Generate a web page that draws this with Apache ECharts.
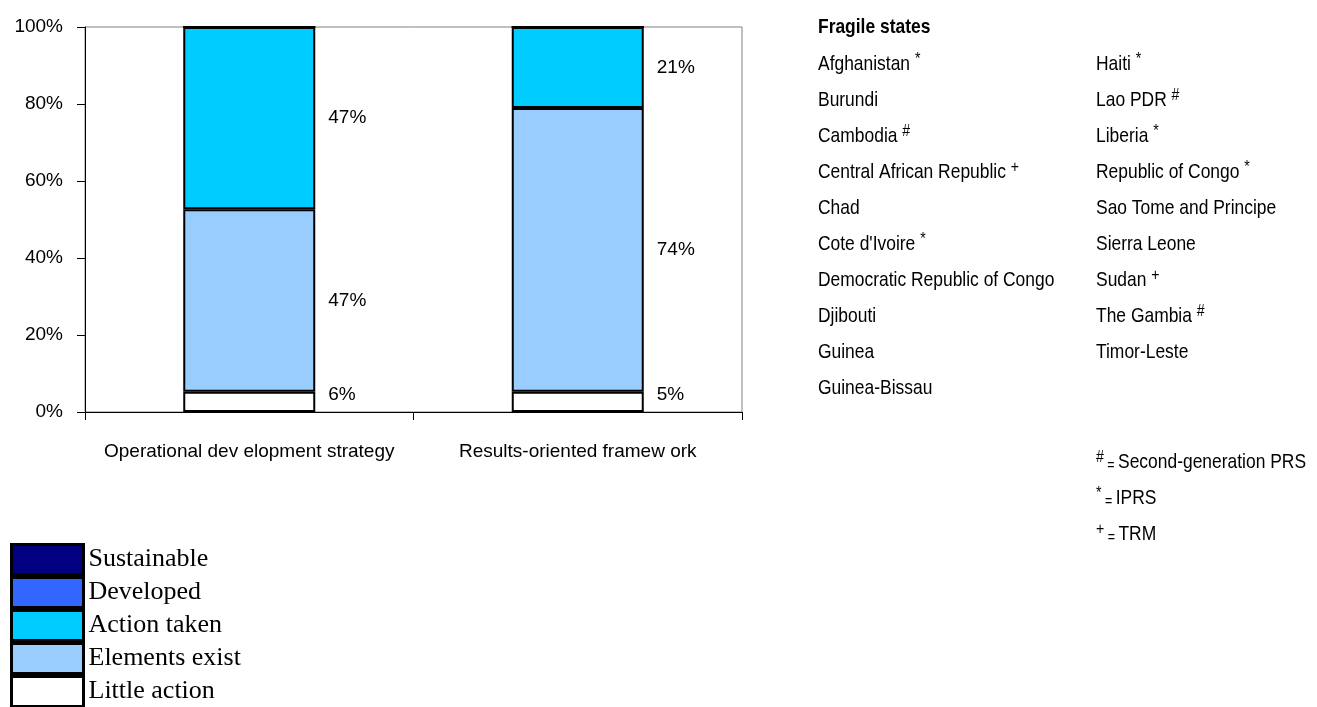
<!DOCTYPE html>
<html>
<head>
<meta charset="utf-8">
<script src="https://cdn.jsdelivr.net/npm/echarts@6/dist/echarts.min.js"></script>
<style>
html,body{margin:0;padding:0;background:#fff;}
#chart{width:1317px;height:707px;}
</style>
</head>
<body>
<div id="chart"></div>
<script>
// ---- data ----
const categories = ['Operational dev elopment strategy', 'Results-oriented framew ork'];
const yTicks = [0, 20, 40, 60, 80, 100];
const littleAction = [5.26, 5.26];
const elementsExist = [47.37, 73.68];
const actionTaken = [47.37, 21.05];
const developed = [0, 0];
const sustainable = [0, 0];
const littleLabels = ['6%', '5%'];
const elementsLabels = ['47%', '74%'];
const actionLabels = ['47%', '21%'];
const legendNames = ['Sustainable', 'Developed', 'Action taken', 'Elements exist', 'Little action'];
const seriesColors = {
  'Sustainable': '#000080',
  'Developed': '#3366FF',
  'Action taken': '#00CCFF',
  'Elements exist': '#99CCFF',
  'Little action': '#FFFFFF'
};
const fragileTitle = 'Fragile states';
const countriesCol1 = [
  ['Afghanistan', '*'], ['Burundi', ''], ['Cambodia', '#'], ['Central African Republic', '+'],
  ['Chad', ''], ["Cote d'Ivoire", '*'], ['Democratic Republic of Congo', ''], ['Djibouti', ''],
  ['Guinea', ''], ['Guinea-Bissau', '']
];
const countriesCol2 = [
  ['Haiti', '*'], ['Lao PDR', '#'], ['Liberia', '*'], ['Republic of Congo', '*'],
  ['Sao Tome and Principe', ''], ['Sierra Leone', ''], ['Sudan', '+'], ['The Gambia', '#'],
  ['Timor-Leste', '']
];
const footnotes = [['#', 'Second-generation PRS'], ['*', 'IPRS'], ['+', 'TRM']];

// ---- chart ----
const chart = echarts.init(document.getElementById('chart'), null, {renderer: 'canvas'});
const sansFont = "'Liberation Sans', Arial, sans-serif";
const narrow = 0.83;

function makeSeries(name, data, labels, labelOffset) {
  const s = {
    name: name,
    type: 'bar',
    stack: 'total',
    barWidth: 132,
    data: data,
    itemStyle: {color: seriesColors[name], borderColor: '#000', borderWidth: 2},
    emphasis: {disabled: true},
    label: {show: false}
  };
  if (labels) {
    s.label = {
      show: true,
      position: 'right',
      distance: 13,
      offset: labelOffset || [0, 0],
      color: '#000',
      fontFamily: sansFont,
      fontSize: 19,
      formatter: p => labels[p.dataIndex]
    };
  }
  return s;
}

const rich = {
  n: {fontFamily: sansFont, fontSize: 21, lineHeight: 24, color: '#000', verticalAlign: 'bottom'},
  s: {fontFamily: sansFont, fontSize: 17, color: '#000', verticalAlign: 'top'},
  e: {fontFamily: sansFont, fontSize: 15, color: '#000', verticalAlign: 'bottom'}
};
function countryText(c) {
  return c[1] ? '{n|' + c[0] + ' }{s|' + c[1] + '}' : '{n|' + c[0] + '}';
}
const graphics = [];
graphics.push({
  type: 'text', x: 818, y: 17, scaleX: narrow,
  style: {text: fragileTitle, font: "bold 21px " + sansFont, fill: '#000', verticalAlign: 'top'}
});
countriesCol1.forEach((c, i) => {
  graphics.push({type: 'text', x: 818, y: 51 + 36 * i, scaleX: narrow,
    style: {text: countryText(c), rich: rich, fill: '#000', verticalAlign: 'top'}});
});
countriesCol2.forEach((c, i) => {
  graphics.push({type: 'text', x: 1096, y: 51 + 36 * i, scaleX: narrow,
    style: {text: countryText(c), rich: rich, fill: '#000', verticalAlign: 'top'}});
});
footnotes.forEach((f, i) => {
  graphics.push({type: 'text', x: 1096, y: 449 + 36 * i, scaleX: narrow,
    style: {text: '{s|' + f[0] + '}{e| = }{n|' + f[1] + '}', rich: rich, fill: '#000', verticalAlign: 'top'}});
});

const option = {
  backgroundColor: '#fff',
  animation: false,
  grid: {left: 85, right: 575, top: 27, bottom: 295, show: true, borderColor: '#808080', borderWidth: 1, containLabel: false},
  legend: {
    data: legendNames,
    orient: 'vertical',
    left: 10,
    top: 543,
    height: 220,
    padding: 0,
    itemWidth: 72,
    itemHeight: 30,
    itemGap: 0,
    icon: 'rect',
    selectedMode: false,
    itemStyle: {borderColor: '#000', borderWidth: 3},
    textStyle: {fontFamily: "'Liberation Serif', 'Times New Roman', serif", fontSize: 26, lineHeight: 30, color: '#000'}
  },
  xAxis: {
    type: 'category',
    data: categories,
    axisLine: {lineStyle: {color: '#000', width: 1}},
    axisTick: {show: true, length: 8, interval: 0, lineStyle: {color: '#000'}},
    axisLabel: {color: '#000', fontFamily: sansFont, fontSize: 19, margin: 30, interval: 0},
    splitLine: {show: false}
  },
  yAxis: {
    type: 'value',
    min: yTicks[0],
    max: yTicks[yTicks.length - 1],
    interval: yTicks[1] - yTicks[0],
    axisLine: {show: true, lineStyle: {color: '#000', width: 1}},
    axisTick: {show: true, length: 8, lineStyle: {color: '#000'}},
    axisLabel: {color: '#000', fontFamily: sansFont, fontSize: 19, margin: 22, formatter: '{value}%'},
    splitLine: {show: false}
  },
  series: [
    makeSeries('Little action', littleAction, littleLabels, [0, -7]),
    makeSeries('Elements exist', elementsExist, elementsLabels),
    makeSeries('Action taken', actionTaken, actionLabels),
    makeSeries('Developed', developed, null),
    makeSeries('Sustainable', sustainable, null)
  ],
  graphic: graphics
};
chart.setOption(option);
</script>
</body>
</html>
